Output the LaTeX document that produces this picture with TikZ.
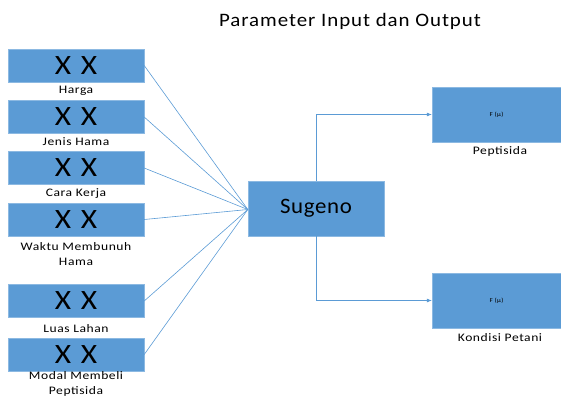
\documentclass[tikz,border=0pt]{standalone}
\usepackage{fontspec}
\setmainfont{Carlito}
\newfontfamily\wide[FakeStretch=1.18,LetterSpace=5]{Carlito}
\newfontfamily\wideb[FakeStretch=1.12,LetterSpace=10]{Carlito}
\newfontfamily\widet[FakeStretch=1.1,LetterSpace=5]{Carlito}
\newfontfamily\widec[FakeStretch=1.04,LetterSpace=3]{Carlito}
\usetikzlibrary{arrows.meta}
\definecolor{obl}{HTML}{5B9BD5}
\begin{document}
\begin{tikzpicture}[x=1pt,y=-1pt,
  inbox/.style={fill=obl,draw=obl!70!white,line width=0.4pt,minimum width=136pt,minimum height=33pt,inner sep=0pt,font=\wideb\fontsize{28}{28}\selectfont},
  outbox/.style={fill=obl,draw=obl!70!white,line width=0.4pt,minimum width=129pt,minimum height=55pt,inner sep=0pt,font=\wide\fontsize{6}{6}\selectfont},
  lbl/.style={font=\wide\fontsize{11.5}{15}\selectfont,align=center,inner sep=0pt},
  conn/.style={draw=obl,line width=0.6pt},
  arr/.style={conn,-{Latex[length=5pt,width=4pt]}}]
\useasboundingbox (0,0) rectangle (561,397);
\node[font=\widet\fontsize{19}{19}\selectfont] (title) at (350,21) {Parameter Input dan Output};
\node[inbox] (i1) at (76,65.5) {X X};
\node[inbox] (i2) at (76,117) {X X};
\node[inbox] (i3) at (76,168) {X X};
\node[inbox] (i4) at (76,219.5) {X X};
\node[inbox] (i5) at (76,301) {X X};
\node[inbox] (i6) at (76,354.5) {X X};
\node[lbl] (l1) at (76,91) {Harga};
\node[lbl] (l2) at (76,142) {Jenis Hama};
\node[lbl] (l3) at (76,194) {Cara Kerja};
\node[lbl] (l4) at (76,254) {Waktu Membunuh\\Hama};
\node[lbl] (l5) at (76,329) {Luas Lahan};
\node[lbl] (l6) at (76,384) {Modal Membeli\\Peptisida};
\node[fill=obl,draw=obl!70!white,line width=0.4pt,minimum width=136pt,minimum height=55pt,inner sep=0pt,font=\widec\fontsize{22}{22}\selectfont] (s) at (316,208.5) {Sugeno};
\coordinate (c) at ([yshift=-1pt]s.west);
\foreach \i in {1,...,6}{\draw[conn] (i\i.east) -- (c);}
\node[outbox] (o1) at (496.5,114.5) {F (µ)};
\node[outbox] (o2) at (496.5,300.5) {F (µ)};
\node[lbl] (p1) at (500,151) {Peptisida};
\node[lbl] (p2) at (500,338) {Kondisi Petani};
\draw[arr] (s.north) |- (o1.west);
\draw[arr] (s.south) |- (o2.west);
\end{tikzpicture}
\end{document}
